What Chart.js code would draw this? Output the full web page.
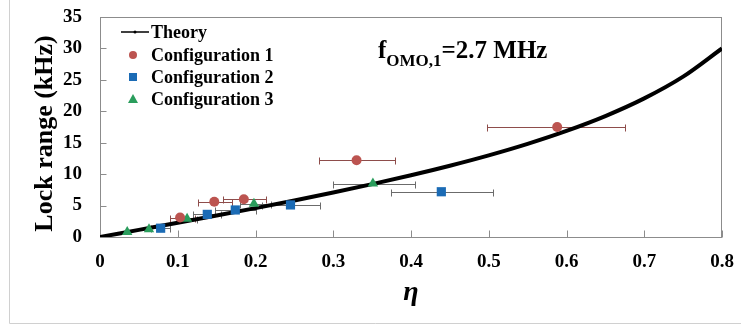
<!DOCTYPE html>
<html>
<head>
<meta charset="utf-8">
<script src="https://cdn.jsdelivr.net/npm/chart.js@4"></script>
<style>
  html, body { margin: 0; padding: 0; background: #fff; }
  #wrap { width: 741px; height: 327px; position: relative; }
</style>
</head>
<body>
<div id="wrap"><canvas id="chart" width="741" height="327"></canvas></div>
<script>
'use strict'

// theory curve
const etaTheory = [0, 0.05, 0.1, 0.15, 0.2, 0.25, 0.3, 0.35, 0.4, 0.45, 0.5, 0.55, 0.6, 0.65, 0.7, 0.75, 0.8];
const lockTheory = [0, 1.13, 2.26, 3.41, 4.59, 5.81, 7.08, 8.41, 9.82, 11.34, 12.99, 14.82, 16.88, 19.24, 22.05, 25.51, 30.0];

// measured points + horizontal error bar ends
const cfg1Eta = [0.103, 0.147, 0.185, 0.330, 0.588];
const cfg1Lock = [3.1, 5.6, 6.0, 12.2, 17.5];
const cfg1Lo = [0.09, 0.126, 0.158, 0.282, 0.498];
const cfg1Hi = [0.122, 0.17, 0.214, 0.38, 0.675];

const cfg2Eta = [0.078, 0.138, 0.174, 0.245, 0.439];
const cfg2Lock = [1.4, 3.6, 4.3, 5.1, 7.2];
const cfg2Lo = [0.066, 0.12, 0.148, 0.208, 0.374];
const cfg2Hi = [0.09, 0.156, 0.2, 0.283, 0.505];

const cfg3Eta = [0.035, 0.063, 0.112, 0.198, 0.351];
const cfg3Lock = [0.8, 1.25, 2.9, 5.3, 8.5];
const cfg3Lo = [0.035, 0.063, 0.1, 0.18, 0.3];
const cfg3Hi = [0.035, 0.063, 0.125, 0.22, 0.405];

const xTickLabels = ['0', '0.1', '0.2', '0.3', '0.4', '0.5', '0.6', '0.7', '0.8'];
const yTickLabels = ['0', '5', '10', '15', '20', '25', '30', '35'];

const seriesNames = ['Theory', 'Configuration 1', 'Configuration 2', 'Configuration 3'];

const RED = '#BC5450', BLUE = '#1B6BB5', GREEN = '#2A9D5C';
const SERIF = '"Liberation Serif", "Times New Roman", serif';

function pts(xs, ys) {
  return xs.map((x, i) => ({ x: x, y: ys[i] }));
}

const errBars = [
  { xs: cfg1Eta, ys: cfg1Lock, lo: cfg1Lo, hi: cfg1Hi, color: '#8E4D4B' },
  { xs: cfg2Eta, ys: cfg2Lock, lo: cfg2Lo, hi: cfg2Hi, color: '#6b6b6b' },
  { xs: cfg3Eta, ys: cfg3Lock, lo: cfg3Lo, hi: cfg3Hi, color: '#6b6b6b' }
];

// error bars, frame, inward ticks, legend box and the f_OMO label
const extras = {
  id: 'extras',
  beforeDatasetsDraw(chart) {
    const c = chart.ctx, x = chart.scales.x, y = chart.scales.y, a = chart.chartArea;
    const L = Math.round(a.left) + 0.5, R = Math.round(a.right) - 0.5;
    const T = Math.round(a.top) + 0.5, B = Math.round(a.bottom) + 0.5;
    c.save();
    // outer frame (left and bottom)
    c.strokeStyle = '#d0d0d0';
    c.lineWidth = 1;
    c.beginPath();
    c.moveTo(9.5, 0); c.lineTo(9.5, 323.5); c.lineTo(741, 323.5);
    c.stroke();
    // plot frame + inward ticks
    c.strokeStyle = '#8c8c8c';
    c.strokeRect(L, T, R - L, B - T);
    c.beginPath();
    xTickLabels.forEach((t, i) => {
      const px = Math.round(x.getPixelForValue(i * 0.1)) + 0.5;
      c.moveTo(px, B); c.lineTo(px, B - 7);
    });
    yTickLabels.forEach((t, i) => {
      const py = Math.round(y.getPixelForValue(i * 5)) + 0.5;
      c.moveTo(L, py); c.lineTo(L + 6, py);
    });
    c.stroke();
    // error bars
    errBars.forEach(s => {
      c.strokeStyle = s.color;
      s.xs.forEach((v, i) => {
        if (s.hi[i] - s.lo[i] <= 0) return;
        const py = Math.round(y.getPixelForValue(s.ys[i])) + 0.5;
        const x1 = Math.round(x.getPixelForValue(s.lo[i])) + 0.5;
        const x2 = Math.round(x.getPixelForValue(s.hi[i])) + 0.5;
        c.beginPath();
        c.moveTo(x1, py); c.lineTo(x2, py);
        c.moveTo(x1, py - 3); c.lineTo(x1, py + 4);
        c.moveTo(x2, py - 3); c.lineTo(x2, py + 4);
        c.stroke();
      });
    });
    c.restore();
  },
  afterDraw(chart) {
    const c = chart.ctx;
    c.save();
    // legend
    const lx = 133, rows = [32, 55, 77, 99];
    c.strokeStyle = '#000';
    c.lineWidth = 1.5;
    c.beginPath(); c.moveTo(121, rows[0]); c.lineTo(149, rows[0]); c.stroke();
    c.fillStyle = '#000';
    c.beginPath(); c.arc(135, rows[0], 1.5, 0, Math.PI * 2); c.fill();
    c.fillStyle = RED;
    c.beginPath(); c.arc(lx, rows[1], 4, 0, Math.PI * 2); c.fill();
    c.fillStyle = BLUE;
    c.fillRect(lx - 4, rows[2] - 4, 8, 8);
    c.fillStyle = GREEN;
    c.beginPath(); c.moveTo(lx, rows[3] - 5); c.lineTo(lx + 5, rows[3] + 4); c.lineTo(lx - 5, rows[3] + 4); c.closePath(); c.fill();
    c.fillStyle = '#000';
    c.font = 'bold 18px ' + SERIF;
    c.textBaseline = 'middle';
    c.textAlign = 'left';
    seriesNames.forEach((n, i) => c.fillText(n, 151, rows[i] + 1));
    // annotation
    c.textBaseline = 'alphabetic';
    c.font = 'bold 25px ' + SERIF;
    let tx = 378;
    c.fillText('f', tx, 58);
    tx += c.measureText('f').width;
    c.font = 'bold 17px ' + SERIF;
    c.fillText('OMO,1', tx, 66);
    tx += c.measureText('OMO,1').width;
    c.font = 'bold 25px ' + SERIF;
    c.fillText('=2.7 MHz', tx, 58);
    c.restore();
  }
};

const ctx = document.getElementById('chart');
new Chart(ctx, {
  type: 'scatter',
  data: {
    datasets: [
      {
        label: seriesNames[0],
        data: pts(etaTheory, lockTheory),
        showLine: true,
        borderColor: '#000',
        borderWidth: 4,
        pointRadius: 0,
        cubicInterpolationMode: 'monotone',
        order: 10
      },
      {
        label: seriesNames[1],
        data: pts(cfg1Eta, cfg1Lock),
        pointStyle: 'circle',
        pointRadius: 5,
        backgroundColor: RED,
        borderColor: RED,
        borderWidth: 0,
        order: 1
      },
      {
        label: seriesNames[2],
        data: pts(cfg2Eta, cfg2Lock),
        pointStyle: 'rect',
        pointRadius: 6.5,
        backgroundColor: BLUE,
        borderColor: BLUE,
        borderWidth: 0,
        order: 1
      },
      {
        label: seriesNames[3],
        data: pts(cfg3Eta, cfg3Lock),
        pointStyle: 'triangle',
        pointRadius: 6,
        backgroundColor: GREEN,
        borderColor: GREEN,
        borderWidth: 0,
        order: 1
      }
    ]
  },
  options: {
    responsive: false,
    animation: false,
    layout: { padding: { left: 10, right: 19, top: 17, bottom: 4 } },
    scales: {
      x: {
        type: 'linear',
        min: 0,
        max: 0.8,
        grid: { display: false, drawTicks: false },
        border: { display: false },
        // fixed box; drop the label overflow padding so the plot edges stay put
        afterFit: s => { s.height = 86; s.paddingLeft = 0; s.paddingRight = 0; },
        afterBuildTicks: s => { s.ticks = xTickLabels.map((t, i) => ({ value: i * 0.1 })); },
        ticks: {
          padding: 14,
          color: '#000',
          font: { family: SERIF, size: 19, weight: 'bold' },
          maxRotation: 0,
          callback: (v, i) => xTickLabels[i]
        },
        title: {
          display: true,
          text: 'η',
          color: '#000',
          font: { family: SERIF, size: 28, weight: 'bold', style: 'italic' },
          padding: { top: 0, bottom: 13 }
        }
      },
      y: {
        min: 0,
        max: 35,
        grid: { display: false, drawTicks: false },
        border: { display: false },
        afterFit: s => { s.width = 90; s.paddingTop = 0; s.paddingBottom = 0; },
        afterBuildTicks: s => { s.ticks = yTickLabels.map((t, i) => ({ value: i * 5 })); },
        ticks: {
          padding: 18,
          color: '#000',
          font: { family: SERIF, size: 19, weight: 'bold' },
          callback: (v, i) => yTickLabels[i]
        },
        title: {
          display: true,
          // trailing spaces nudge the rotated title a little lower, as in the original
          text: 'Lock range (kHz)  ',
          color: '#000',
          font: { family: SERIF, size: 26, weight: 'bold' },
          padding: { top: 20, bottom: 0 }
        }
      }
    },
    plugins: {
      legend: { display: false },
      tooltip: { enabled: false }
    }
  },
  plugins: [extras]
});
</script>
</body>
</html>
